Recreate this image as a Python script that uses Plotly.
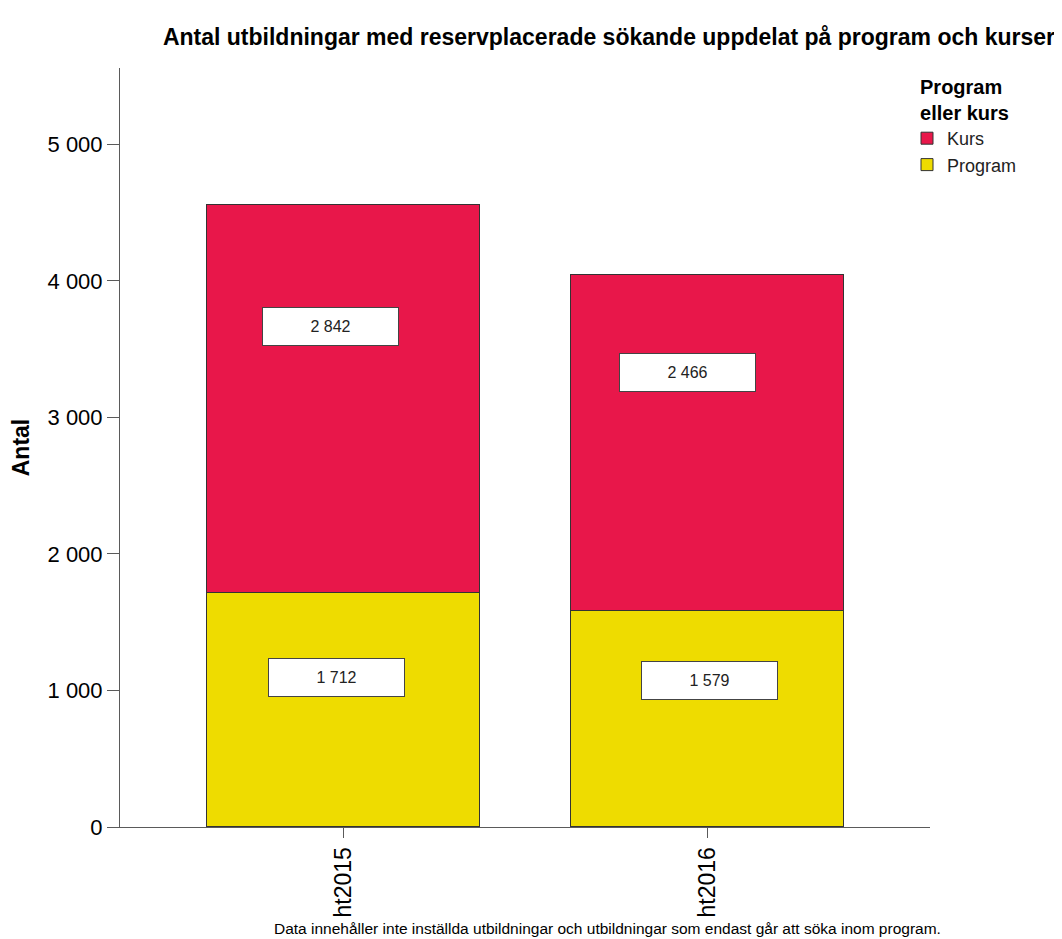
import plotly.graph_objects as go

categories = ["ht2015", "ht2016"]
program_values = [1712, 1579]
kurs_values = [2842, 2466]
y_tickvals = [0, 1000, 2000, 3000, 4000, 5000]

# label box placement (style): x offset from category center, y value position
kurs_label_pos = [(-0.037, 3670), (-0.054, 3333)]
program_label_pos = [(-0.018, 1095), (0.004, 1070)]

FONT = "Liberation Sans, Arial, sans-serif"
RED = "#E8174A"
YELLOW = "#EEDC00"
LINE = "#5a5a5a"

# page has an 8px body margin, so the figure is sized/positioned to compensate
W, H = 1054, 931
L, T, PW, PH = 112, 60, 810, 759

x_idx = list(range(len(categories)))

fig = go.Figure()
fig.add_trace(go.Bar(
    x=x_idx, y=program_values, name="Program",
    marker=dict(color=YELLOW, line=dict(color="#333333", width=1)),
    width=0.75, hoverinfo="y+name",
))
fig.add_trace(go.Bar(
    x=x_idx, y=kurs_values, name="Kurs",
    marker=dict(color=RED, line=dict(color="#333333", width=1)),
    width=0.75, hoverinfo="y+name",
))

annotations = []
for i in x_idx:
    for val, (dx, yv) in ((kurs_values[i], kurs_label_pos[i]), (program_values[i], program_label_pos[i])):
        annotations.append(dict(
            x=i + dx, y=yv, xref="x", yref="y",
            text=f"{val:,}".replace(",", " "), showarrow=False,
            font=dict(family=FONT, size=16, color="#222222"),
            bgcolor="white", bordercolor="#444444", borderwidth=1,
            borderpad=1, width=133, height=35,
        ))

annotations.append(dict(
    text="Data innehåller inte inställda utbildningar och utbildningar som endast går att söka inom program.",
    x=(599 - L) / PW, y=-(920 - (T + PH)) / PH, xref="paper", yref="paper",
    xanchor="center", yanchor="middle", showarrow=False,
    font=dict(family=FONT, size=15.5, color="black"),
))

fig.update_layout(
    width=W, height=H,
    margin=dict(l=L, r=W - L - PW, t=T, b=H - T - PH, autoexpand=False),
    paper_bgcolor="white", plot_bgcolor="white",
    barmode="stack", bargap=0,
    separators=", ",
    font=dict(family=FONT, color="black"),
    title=dict(
        text="<b>Antal utbildningar med reservplacerade sökande uppdelat på program och kurser</b>",
        x=601 / W, xanchor="center", y=1 - 29 / H, yanchor="middle",
        font=dict(family=FONT, size=23, color="black"),
    ),
    xaxis=dict(
        range=[-0.614, 1.611],
        tickmode="array", tickvals=x_idx, ticktext=categories,
        tickangle=-90, ticks="outside", ticklen=10, tickcolor=LINE,
        showline=True, linecolor=LINE, linewidth=1,
        showgrid=False, zeroline=False,
        tickfont=dict(family=FONT, size=23, color="black"),
    ),
    yaxis=dict(
        range=[0, 5560],
        tickmode="array", tickvals=y_tickvals,
        tickformat=",d",
        ticks="outside", ticklen=12, tickcolor=LINE,
        showline=True, linecolor=LINE, linewidth=1,
        showgrid=False, zeroline=False,
        tickfont=dict(family=FONT, size=22, color="black"),
        title=dict(text="<b>Antal</b>", font=dict(family=FONT, size=23, color="black"), standoff=14),
    ),
    legend=dict(
        x=(899 - L) / PW, y=1.0, xanchor="left", yanchor="top",
        traceorder="reversed",
        title=dict(text="<b>Program<br>eller kurs</b>", side="top center",
                   font=dict(family=FONT, size=20, color="black")),
        font=dict(family=FONT, size=18, color="#222222"),
        itemwidth=30, tracegroupgap=0,
        bgcolor="rgba(0,0,0,0)",
    ),
    annotations=annotations,
)

fig.write_html("out.html")
